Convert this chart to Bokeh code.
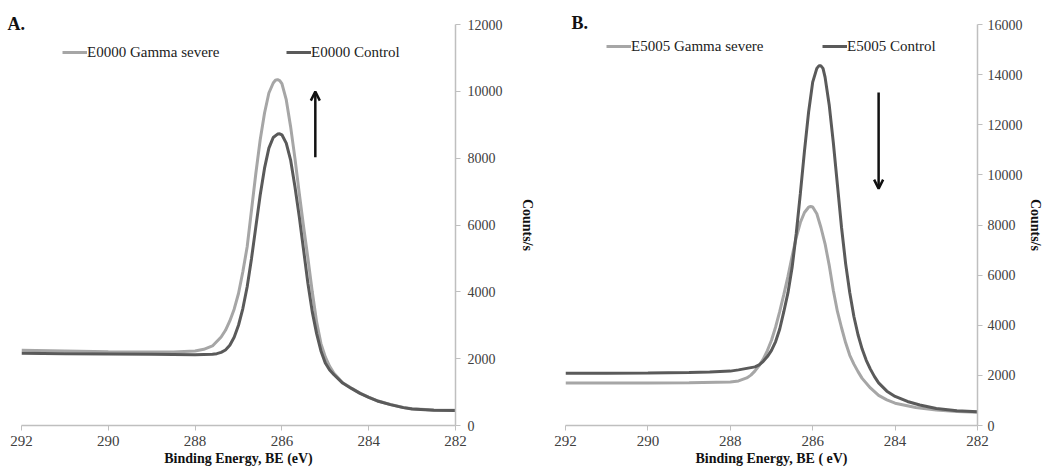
from bokeh.plotting import figure
from bokeh.layouts import row
from bokeh.models import Range1d, FixedTicker, Legend, LegendItem, Arrow, OpenHead
from bokeh.embed import file_html
from bokeh.resources import INLINE

# ---------------- data ----------------
a_gamma_be = [292.0, 291.0, 290.0, 289.0, 288.5, 288.0, 287.8, 287.6, 287.4, 287.3, 287.2, 287.1, 287.0,
              286.9, 286.8, 286.7, 286.6, 286.5, 286.4, 286.3, 286.2, 286.15, 286.1, 286.05, 286.0, 285.9,
              285.8, 285.7, 285.6, 285.5, 285.4, 285.3, 285.2, 285.1, 285.0, 284.9, 284.8, 284.6, 284.4,
              284.2, 284.0, 283.8, 283.5, 283.2, 283.0, 282.5, 282.0]
a_gamma_cps = [2250, 2230, 2210, 2200, 2200, 2230, 2280, 2380, 2650, 2850, 3130, 3480, 3950,
               4600, 5350, 6450, 7550, 8550, 9350, 9950, 10250, 10330, 10350, 10320, 10230, 9750,
               8950, 8000, 6950, 5950, 5000, 4000, 3100, 2450, 2050, 1770, 1560, 1280, 1120,
               970, 850, 740, 630, 540, 500, 465, 455]

a_ctrl_be = [292.0, 291.0, 290.0, 289.0, 288.0, 287.6, 287.5, 287.4, 287.3, 287.2, 287.1, 287.0, 286.9,
             286.8, 286.7, 286.6, 286.5, 286.4, 286.3, 286.2, 286.1, 286.05, 286.0, 285.9, 285.8, 285.7,
             285.6, 285.5, 285.4, 285.3, 285.2, 285.1, 285.0, 284.9, 284.8, 284.6, 284.4, 284.2, 284.0,
             283.8, 283.5, 283.2, 283.0, 282.5, 282.0]
a_ctrl_cps = [2160, 2150, 2140, 2130, 2120, 2130, 2150, 2190, 2260, 2400, 2640, 3000, 3500,
              4150, 5000, 5950, 6900, 7700, 8300, 8620, 8720, 8730, 8700, 8450, 7950, 7150,
              6250, 5250, 4250, 3400, 2750, 2230, 1870, 1660, 1520, 1270, 1110, 960, 845,
              735, 625, 535, 495, 460, 450]

b_gamma_be = [292.0, 291.0, 290.0, 289.0, 288.0, 287.8, 287.6, 287.5, 287.4, 287.3, 287.2, 287.1, 287.0,
              286.9, 286.8, 286.7, 286.6, 286.5, 286.4, 286.3, 286.2, 286.1, 286.05, 286.0, 285.9, 285.8,
              285.7, 285.6, 285.5, 285.4, 285.3, 285.2, 285.1, 285.0, 284.9, 284.8, 284.6, 284.4, 284.2,
              284.0, 283.5, 283.0, 282.5, 282.0]
b_gamma_cps = [1700, 1700, 1700, 1710, 1740, 1780, 1900, 2010, 2180, 2390, 2650, 2990, 3400,
               3930, 4550, 5230, 5950, 6750, 7500, 8100, 8500, 8710, 8740, 8720, 8450, 7900,
               7250, 6400, 5400, 4550, 3900, 3300, 2800, 2450, 2150, 1880, 1500, 1200, 1020,
               890, 720, 615, 560, 530]

b_ctrl_be = [292.0, 291.0, 290.0, 289.0, 288.5, 288.0, 287.8, 287.6, 287.4, 287.3, 287.2, 287.1, 287.0,
             286.9, 286.8, 286.7, 286.6, 286.5, 286.4, 286.3, 286.2, 286.1, 286.0, 285.9, 285.85, 285.8,
             285.75, 285.7, 285.6, 285.5, 285.4, 285.3, 285.2, 285.1, 285.0, 284.9, 284.8, 284.7, 284.6,
             284.5, 284.4, 284.2, 284.0, 283.7, 283.4, 283.0, 282.5, 282.0]
b_ctrl_cps = [2080, 2080, 2090, 2110, 2130, 2170, 2220, 2280, 2340, 2420, 2560, 2750, 3000,
              3350, 3850, 4550, 5300, 6300, 7650, 9250, 10950, 12500, 13700, 14250, 14350, 14350,
              14250, 13900, 12800, 11300, 9600, 7900, 6450, 5300, 4350, 3620, 3050, 2600, 2250,
              1950, 1700, 1370, 1160, 960, 820, 680, 590, 545]

x_ticks = [292, 290, 288, 286, 284, 282]
a_y_ticks = [0, 2000, 4000, 6000, 8000, 10000, 12000]
b_y_ticks = [0, 2000, 4000, 6000, 8000, 10000, 12000, 14000, 16000]

a_labels = ["E0000 Gamma severe", "E0000 Control"]
b_labels = ["E5005 Gamma severe", "E5005 Control"]
x_title_a = "Binding Energy, BE (eV)"
x_title_b = "Binding Energy, BE ( eV)"
y_title = "Counts/s"

# arrow annotations (x, y_start, y_end)
a_arrow = (285.23, 8030, 9990)
b_arrow = (284.40, 13290, 9450)

GAMMA = "#a6a6a6"
CTRL = "#5a5a5a"
FONT = "Liberation Serif"


def make_panel(width, border_left, border_right, ymax, yticks, gbe, gcps, cbe, ccps,
               labels, xtitle, letter, title_dx, title_dy, arrow, leg_y, leg_x2,
               ylab_standoff, ytick_standoff):
    p = figure(width=width, height=468, output_backend="svg", toolbar_location=None,
               x_range=Range1d(292, 282), y_range=Range1d(0, ymax), y_axis_location="right",
               min_border_left=border_left, min_border_right=border_right,
               min_border_top=24, min_border_bottom=0, title=letter)
    p.outline_line_color = None
    p.xgrid.visible = False
    p.ygrid.visible = False
    p.background_fill_color = "white"
    p.border_fill_color = "white"

    p.title.align = "left"
    p.title.offset = title_dx
    p.title.standoff = title_dy
    p.title.text_font = FONT
    p.title.text_font_style = "bold"
    p.title.text_font_size = "18px"
    p.title.text_color = "#111111"

    rg = p.line(gbe, gcps, line_color=GAMMA, line_width=3)
    rc = p.line(cbe, ccps, line_color=CTRL, line_width=3)

    for ax in (p.xaxis[0], p.yaxis[0]):
        ax.axis_line_color = "#bfbfbf"
        ax.axis_line_width = 1.5
        ax.major_tick_line_color = "#bfbfbf"
        ax.major_tick_in = 0
        ax.major_tick_out = 5
        ax.minor_tick_line_color = None
        ax.major_label_text_font = FONT
        ax.major_label_text_color = "#404040"
        ax.axis_label_text_font = FONT
        ax.axis_label_text_font_style = "bold"
        ax.axis_label_text_font_size = "14px"
        ax.axis_label_text_color = "#111111"

    p.xaxis.ticker = FixedTicker(ticks=x_ticks)
    p.xaxis.major_label_text_font_size = "15px"
    p.xaxis.major_label_standoff = 5
    p.xaxis.axis_label = xtitle
    p.xaxis.axis_label_standoff = 2

    p.yaxis.ticker = FixedTicker(ticks=yticks)
    p.yaxis.major_label_text_font_size = "14px"
    p.yaxis.major_label_standoff = ytick_standoff
    p.yaxis.axis_label = y_title
    p.yaxis.axis_label_standoff = ylab_standoff

    for renderer, lab, lx in ((rg, labels[0], 41), (rc, labels[1], leg_x2)):
        leg = Legend(items=[LegendItem(label=lab, renderers=[renderer])],
                     location=(lx, leg_y), orientation="horizontal",
                     border_line_color=None, background_fill_alpha=0,
                     padding=0, margin=0, spacing=0, label_standoff=0,
                     glyph_width=25, glyph_height=18, label_height=18,
                     label_text_font=FONT, label_text_font_size="15px",
                     label_text_color="#222222")
        p.add_layout(leg)

    p.add_layout(Arrow(end=OpenHead(size=9, line_width=2.5, line_color="#111111"),
                       x_start=arrow[0], y_start=arrow[1], x_end=arrow[0], y_end=arrow[2],
                       line_width=2.5, line_color="#111111"))
    return p


pa = make_panel(548, 21, 93, 12000, a_y_ticks, a_gamma_be, a_gamma_cps, a_ctrl_be, a_ctrl_cps,
                a_labels, x_title_a, "A.", -14, -18, a_arrow, 364, 265, 14, 7)
pb = make_panel(500, 17, 71, 16000, b_y_ticks, b_gamma_be, b_gamma_cps, b_ctrl_be, b_ctrl_cps,
                b_labels, x_title_b, "B.", 6, -16, b_arrow, 370, 257, 2, 5)

layout = row(pa, pb)
open("out.html", "w").write(file_html(layout, INLINE))
